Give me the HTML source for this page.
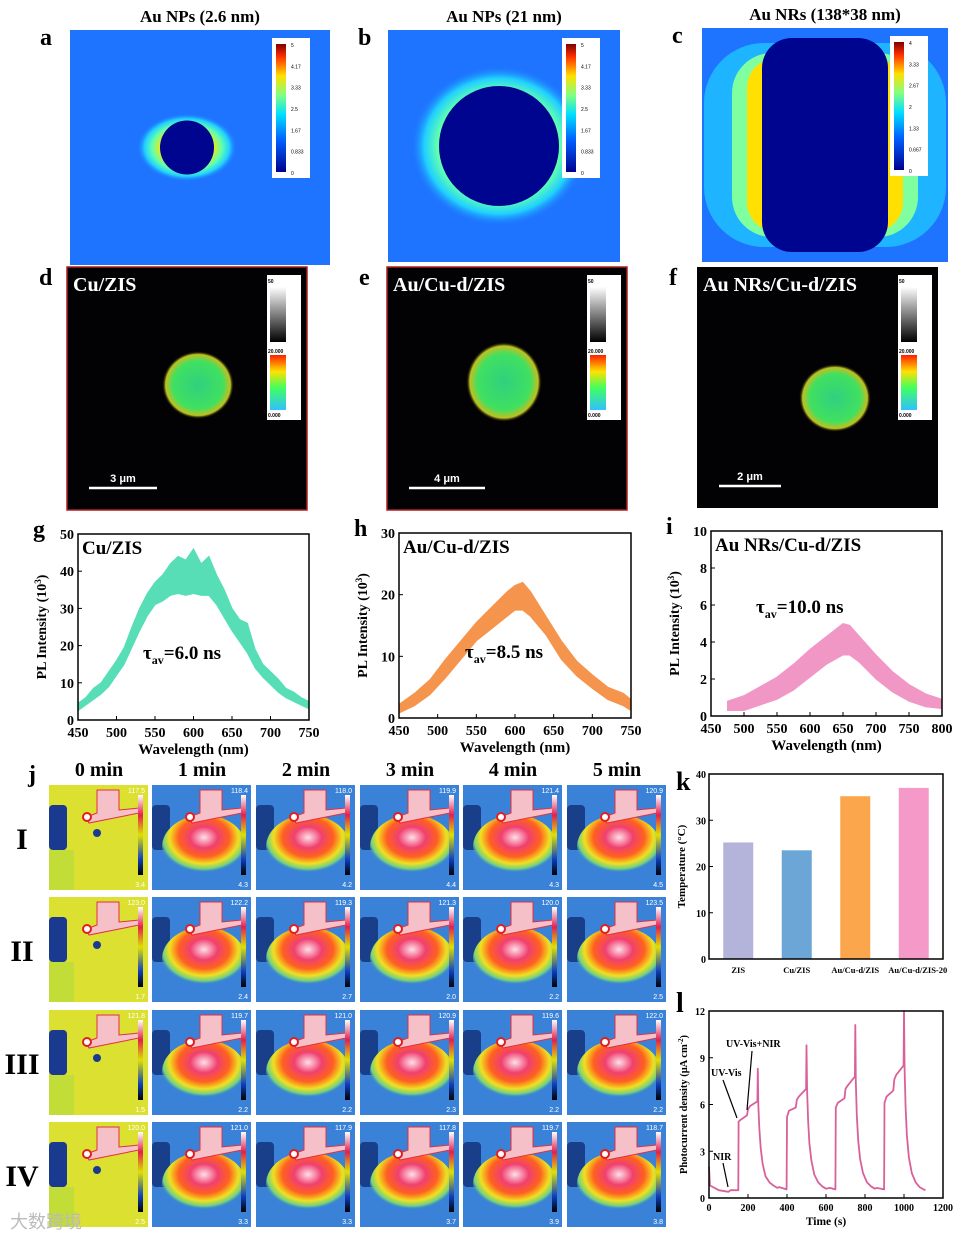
<!DOCTYPE html>
<html><head><meta charset="utf-8"><style>
html,body{margin:0;padding:0;background:#fff}
svg{display:block;font-family:"Liberation Serif",serif;font-weight:bold}
</style></head><body>
<svg id="fig" width="973" height="1239" viewBox="0 0 973 1239" xmlns="http://www.w3.org/2000/svg">
<defs>
<linearGradient id="jet" x1="0" y1="1" x2="0" y2="0"><stop offset="0" stop-color="#00008f"/><stop offset="0.25" stop-color="#0060ff"/><stop offset="0.45" stop-color="#00e0ff"/><stop offset="0.6" stop-color="#80ff80"/><stop offset="0.75" stop-color="#ffe000"/><stop offset="0.9" stop-color="#ff3000"/><stop offset="1" stop-color="#800000"/></linearGradient>
<linearGradient id="gray" x1="0" y1="1" x2="0" y2="0"><stop offset="0" stop-color="#000"/><stop offset="1" stop-color="#fff"/></linearGradient>
<linearGradient id="rain" x1="0" y1="1" x2="0" y2="0"><stop offset="0" stop-color="#30c0ff"/><stop offset="0.4" stop-color="#40ff60"/><stop offset="0.7" stop-color="#ffe000"/><stop offset="1" stop-color="#ff2000"/></linearGradient>
<linearGradient id="tbar" x1="0" y1="1" x2="0" y2="0"><stop offset="0" stop-color="#000"/><stop offset="0.2" stop-color="#1040c0"/><stop offset="0.5" stop-color="#e0e000"/><stop offset="0.75" stop-color="#e02050"/><stop offset="1" stop-color="#fff"/></linearGradient>
<radialGradient id="haloH" cx="0.5" cy="0.5" r="0.5"><stop offset="0.55" stop-color="#ffee00"/><stop offset="0.7" stop-color="#60ffa0"/><stop offset="1" stop-color="#1e78ff" stop-opacity="0"/></radialGradient>
<radialGradient id="haloC" cx="0.5" cy="0.5" r="0.5"><stop offset="0.5" stop-color="#ffe800"/><stop offset="0.7" stop-color="#60ffb0"/><stop offset="0.85" stop-color="#20d0ff"/><stop offset="1" stop-color="#1e78ff" stop-opacity="0"/></radialGradient>
<radialGradient id="blob" cx="0.5" cy="0.5" r="0.5"><stop offset="0" stop-color="#30d080"/><stop offset="0.7" stop-color="#40e060"/><stop offset="0.9" stop-color="#c0c020"/><stop offset="1" stop-color="#000" stop-opacity="0"/></radialGradient>
<radialGradient id="heat" cx="0.5" cy="0.35" r="0.55"><stop offset="0" stop-color="#ffe0e8"/><stop offset="0.3" stop-color="#f04070"/><stop offset="0.55" stop-color="#ff6020"/><stop offset="0.75" stop-color="#f0e020"/><stop offset="0.9" stop-color="#70d080"/><stop offset="1" stop-color="#3a80d8" stop-opacity="0"/></radialGradient>
</defs>
<g id="root"></g>
</svg>
<script>
// ---------- chart data ----------
const plWlG=[450,460,470,480,490,500,510,520,530,540,550,560,570,580,590,600,610,620,630,640,650,660,670,680,690,700,710,720,730,740,750];
const plLoG=[2.5,4,5.5,7,9,12,15,19.5,24,28,31,32,33.5,34,33.5,34,33.5,33.5,31,27.5,24,21,18,14,11.5,9.5,7.5,6,5,4,3];
const plHiG=[4.5,6,8.5,10,13,16,19.5,25,30,34,37,39,42,44,43,46,42,44,39,35,30,27,26,19,15,13,11,8.5,7.5,6,5];
const plWlH=[450,470,490,510,530,550,570,590,600,610,620,640,660,680,700,720,740,750];
const plLoH=[0.8,2,3.8,6.5,9.5,12.5,14.5,16.5,17.5,17.5,16.5,13.5,9.5,6.8,4.8,3,2,1.2];
const plHiH=[2.2,4,6.2,9.5,12.5,15.5,18,20.5,21.5,22,20.5,16.5,12.5,9.2,7,5,4,3];
const plWlI=[475,500,525,550,575,600,625,650,660,675,700,725,750,775,800];
const plLoI=[0.3,0.3,0.6,0.9,1.4,2.1,2.8,3.3,3.3,2.9,2,1.3,0.8,0.5,0.4];
const plHiI=[0.8,1.1,1.6,2.1,2.8,3.6,4.3,5,4.9,4.3,3.3,2.4,1.7,1.2,0.9];
const barCats=["ZIS","Cu/ZIS","Au/Cu-d/ZIS","Au/Cu-d/ZIS-20"];
const barVals=[25.2,23.5,35.2,37.0];
const barColors=["#b4b4da","#6ca6d6","#fba64c","#f59ac8"];
const pcTime=[0,5,50,100,110,150,152,160,195,200,210,248,250,253,258,265,275,290,310,330,350,360,398,400,410,445,450,460,498,500,503,508,515,525,540,560,580,600,620,648,650,660,695,700,710,748,750,753,758,765,775,790,810,830,850,860,898,900,910,945,950,960,998,1000,1003,1008,1015,1025,1040,1060,1080,1100,1110];
const pcVals=[2.0,0.8,0.5,0.4,0.5,0.5,4.9,5.0,5.3,5.7,5.9,6.2,8.3,6.0,4.5,3.2,2.2,1.4,1.0,0.8,0.65,0.7,0.55,5.2,5.6,5.8,6.3,6.5,7.0,9.8,6.9,5.0,3.5,2.4,1.5,1.0,0.75,0.6,0.65,0.55,5.8,6.1,6.4,7.0,7.2,7.8,11.1,7.5,5.3,3.7,2.5,1.6,1.0,0.75,0.6,0.65,0.55,6.1,6.5,6.9,7.6,7.9,8.5,12.0,8.3,5.8,4.0,2.6,1.6,1.0,0.7,0.55,0.5];
const kTicks=[0,10,20,30,40];
const lXTicks=[0,200,400,600,800,1000,1200];
const lYTicks=[0,3,6,9,12];

const NS="http://www.w3.org/2000/svg";
const root=document.getElementById('root');
function mk(tag,attrs,parent,text){const e=document.createElementNS(NS,tag);for(const k in attrs)e.setAttribute(k,attrs[k]);if(text!==undefined)e.textContent=text;(parent||root).appendChild(e);return e;}

// ---------- simulation panels a,b,c ----------
function simPanel(x,y,w,h,label,title,kind,cbTicks){
  const g=mk('g',{});
  
  
  const t=mk('text',{x:x+w/2,y:y-8,'font-size':17,'text-anchor':'middle'},root,title);
  
  
  const l=mk('text',{x:x-30,y:y+15,'font-size':24},root,label);
  
  
  mk('rect',{x:x,y:y,width:w,height:h,fill:'#1e74ff'},g);
  const cx=x+w/2, cy=y+h/2;
  if(kind==='a'){
    mk('ellipse',{cx:cx-13,cy:cy,rx:50,ry:34,fill:'url(#haloC)'},g);
    mk('circle',{cx:cx-13,cy:cy,r:27,fill:'#00058f'},g);
  } else if(kind==='b'){
    mk('ellipse',{cx:cx-5,cy:cy,rx:88,ry:80,fill:'url(#haloC)'},g);
    mk('circle',{cx:cx-5,cy:cy,r:60,fill:'#00058f'},g);
  } else {
    mk('rect',{x:x+2,y:y+15,width:w-4,height:h-30,rx:60,fill:'#20d0ff',opacity:0.7},g);
    mk('rect',{x:x+30,y:y+25,width:w-60,height:h-50,rx:40,fill:'#80ffa0'},g);
    mk('rect',{x:x+45,y:y+30,width:w-90,height:h-60,rx:30,fill:'#ffe000'},g);
    mk('rect',{x:x+60,y:y+10,width:w-120,height:h-20,rx:30,fill:'#00058f'},g);
  }
  const bx=x+w-58, by=y+8;
  mk('rect',{x:bx,y:by,width:38,height:140,fill:'#fff'},g);
  mk('rect',{x:bx+4,y:by+6,width:10,height:128,fill:'url(#jet)'},g);
  cbTicks.forEach((v,i)=>{mk('text',{x:bx+19,y:by+9+i*128/(cbTicks.length-1),'font-size':5,'font-weight':'normal','font-family':'Liberation Sans,sans-serif'},g,v);});
}
simPanel(70,30,260,235,'a','Au NPs (2.6 nm)','a',['5','4.17','3.33','2.5','1.67','0.833','0']);
simPanel(388,30,232,232,'b','Au NPs (21 nm)','b',['5','4.17','3.33','2.5','1.67','0.833','0']);
simPanel(702,28,246,234,'c','Au NRs (138*38 nm)','c',['4','3.33','2.67','2','1.33','0.667','0']);

// ---------- FLIM panels d,e,f ----------
function flim(x,y,w,h,label,title,bx,by,brx,bry,sb,sbw,border){
  const g=mk('g',{});
  
  
  mk('rect',{x:x,y:y,width:w,height:h,fill:'#020204',stroke:border?'#b02020':'none','stroke-width':1.5},g);
  const l=mk('text',{x:x-28,y:y+18,'font-size':24},root,label);
  
  
  mk('text',{x:x+6,y:y+24,'font-size':20,fill:'#fff'},g,title);
  mk('ellipse',{cx:bx,cy:by,rx:brx,ry:bry,fill:'url(#blob)'},g);
  const cx=x+w-40, cy=y+8;
  mk('rect',{x:cx,y:cy,width:34,height:145,fill:'#fff'},g);
  mk('rect',{x:cx+3,y:cy+12,width:16,height:55,fill:'url(#gray)'},g);
  mk('rect',{x:cx+3,y:cy+80,width:16,height:55,fill:'url(#rain)'},g);
  mk('text',{x:cx+1,y:cy+8,'font-size':5,'font-family':'Liberation Sans,sans-serif'},g,'50');
  mk('text',{x:cx+1,y:cy+78,'font-size':5,'font-family':'Liberation Sans,sans-serif'},g,'20.000');
  mk('text',{x:cx+1,y:cy+142,'font-size':5,'font-family':'Liberation Sans,sans-serif'},g,'0.000');
  mk('line',{x1:x+22,y1:y+h-22,x2:x+22+sbw,y2:y+h-22,stroke:'#fff','stroke-width':2.5},g);
  mk('text',{x:x+22+sbw/2,y:y+h-28,'font-size':11,fill:'#fff','text-anchor':'middle','font-family':'Liberation Sans,sans-serif'},g,sb);
}
flim(67,267,240,243,'d','Cu/ZIS',198,385,36,34,'3 μm',68,true);
flim(387,267,240,243,'e','Au/Cu-d/ZIS',504,382,38,40,'4 μm',76,true);
flim(697,267,241,241,'f','Au NRs/Cu-d/ZIS',835,398,36,34,'2 μm',62,false);

// ---------- PL charts ----------
function plChart(label,title,tau,ax,ay,aw,ah,xmin,xmax,xt,ymax,yt,wl,lo,hi,color,tauX,tauY){
  const g=mk('g',{});
  
  
  const sx=v=>ax+(v-xmin)/(xmax-xmin)*aw, sy=v=>ay+ah-v/ymax*ah;
  let pts=[];
  wl.forEach((w,i)=>pts.push(sx(w)+','+sy(hi[i])));
  for(let i=wl.length-1;i>=0;i--)pts.push(sx(wl[i])+','+sy(lo[i]));
  const band=mk('polygon',{points:pts.join(' '),fill:color,stroke:color,'stroke-width':1,opacity:0.9},g);
  
  
  mk('rect',{x:ax,y:ay,width:aw,height:ah,fill:'none',stroke:'#000','stroke-width':1.5},g);
  xt.forEach(v=>{mk('line',{x1:sx(v),y1:ay+ah,x2:sx(v),y2:ay+ah-4,stroke:'#000'},g);mk('text',{x:sx(v),y:ay+ah+17,'font-size':14,'text-anchor':'middle'},g,v);});
  yt.forEach(v=>{mk('line',{x1:ax,y1:sy(v),x2:ax+4,y2:sy(v),stroke:'#000'},g);mk('text',{x:ax-4,y:sy(v)+5,'font-size':14,'text-anchor':'end'},g,v);});
  mk('text',{x:ax+aw/2,y:ay+ah+34,'font-size':15,'text-anchor':'middle'},g,'Wavelength (nm)');
  const yl=mk('text',{x:0,y:0,'font-size':14,'text-anchor':'middle',transform:`translate(${ax-32},${ay+ah/2}) rotate(-90)`},g);
  yl.innerHTML='PL Intensity (10<tspan dy="-5" font-size="9">3</tspan><tspan dy="5">)</tspan>';
  mk('text',{x:ax+4,y:ay+20,'font-size':19},g,title);
  const tt=mk('text',{x:tauX,y:tauY,'font-size':19},g);
  tt.innerHTML='τ<tspan dy="5" font-size="12">av</tspan><tspan dy="-5">='+tau+'</tspan>';
  const l=mk('text',{x:ax-45,y:ay+3,'font-size':24},root,label);
  
  
}
plChart('g','Cu/ZIS','6.0 ns',78,534,231,186,450,750,[450,500,550,600,650,700,750],50,[0,10,20,30,40,50],plWlG,plLoG,plHiG,'#45dbb0',143,659);
plChart('h','Au/Cu-d/ZIS','8.5 ns',399,533,232,185,450,750,[450,500,550,600,650,700,750],30,[0,10,20,30],plWlH,plLoH,plHiH,'#f58a3a',465,658);
plChart('i','Au NRs/Cu-d/ZIS','10.0 ns',711,531,231,185,450,800,[450,500,550,600,650,700,750,800],10,[0,2,4,6,8,10],plWlI,plLoI,plHiI,'#f08cc0',756,613);

// ---------- thermal images j ----------
const jl=mk('text',{x:28,y:782,'font-size':24},root,'j');


const colX=[49,152,256,360,463,567], rowY=[785,897,1010,1122];
const heads=['0 min','1 min','2 min','3 min','4 min','5 min'];
const rowsL=['I','II','III','IV'];
const maxT=[['117.5','118.4','118.0','119.9','121.4','120.9'],['123.0','122.2','119.3','121.3','120.0','123.5'],['121.8','119.7','121.0','120.9','119.6','122.0'],['120.0','121.0','117.9','117.8','119.7','118.7']];
const minT=[['3.4','4.3','4.2','4.4','4.3','4.5'],['1.7','2.4','2.7','2.0','2.2','2.5'],['1.5','2.2','2.2','2.3','2.2','2.2'],['2.5','3.3','3.3','3.7','3.9','3.8']];
heads.forEach((h,c)=>{const t=mk('text',{x:colX[c]+50,y:776,'font-size':20,'text-anchor':'middle'},root,h);});
rowsL.forEach((r,ri)=>{const t=mk('text',{x:22,y:rowY[ri]+64,'font-size':30,'text-anchor':'middle'},root,r);
  colX.forEach((x,c)=>{
    const y=rowY[ri], w=99, h=105;
    const g=mk('g',{});
    
    
    mk('rect',{x:x,y:y,width:w,height:h,fill:c===0?'#dce030':'#3a82d8'},g);
    mk('rect',{x:x,y:y+20,width:18,height:45,rx:4,fill:c===0?'#1a3a90':'#1a3f8a'},g);
    if(c>0){mk('ellipse',{cx:x+52,cy:y+62,rx:42,ry:32,fill:'url(#heat)'},g);}
    else{mk('rect',{x:x,y:y+65,width:25,height:40,fill:'#a8d840',opacity:0.5},g);
      mk('circle',{cx:x+48,cy:y+48,r:4,fill:'#1a3a90'},g);}
    mk('path',{d:`M${x+48} ${y+5} h22 v20 l20 -2 v5 l-50 10 l-3 -6 l11 -4 z`,fill:'#f6c0c8',stroke:'#e03040','stroke-width':1},g);
    mk('circle',{cx:x+38,cy:y+32,r:4,fill:'#fff',stroke:'#e02020','stroke-width':2},g);
    mk('rect',{x:x+w-10,y:y+10,width:5,height:80,fill:'url(#tbar)'},g);
    mk('text',{x:x+w-3,y:y+8,'font-size':7,fill:'#fff','text-anchor':'end','font-weight':'normal','font-family':'Liberation Sans,sans-serif'},g,maxT[ri][c]);
    mk('text',{x:x+w-3,y:y+h-3,'font-size':7,fill:'#fff','text-anchor':'end','font-weight':'normal','font-family':'Liberation Sans,sans-serif'},g,minT[ri][c]);
  });
});

// ---------- bar chart k ----------
(function(){
  const ax=709, ay=774, aw=234, ah=185, ymax=40;
  const g=mk('g',{});
  
  
  const sy=v=>ay+ah-v/ymax*ah;
  const band=aw/barCats.length;
  barCats.forEach((c,i)=>{
    const cx=ax+band*(i+0.5);
    const b=mk('rect',{x:cx-15,y:sy(barVals[i]),width:30,height:sy(0)-sy(barVals[i]),fill:barColors[i]},g);
    
    
    mk('text',{x:cx+(i===3?4:0),y:ay+ah+14,'font-size':8.5,'text-anchor':'middle'},g,c);
  });
  mk('rect',{x:ax,y:ay,width:aw,height:ah,fill:'none',stroke:'#000','stroke-width':1.5},g);
  kTicks.forEach(v=>{mk('line',{x1:ax,y1:sy(v),x2:ax+4,y2:sy(v),stroke:'#000'},g);mk('text',{x:ax-3,y:sy(v)+4,'font-size':10,'text-anchor':'end'},g,v);});
  mk('text',{x:0,y:0,'font-size':11,'text-anchor':'middle',transform:`translate(${ax-24},${ay+ah/2}) rotate(-90)`},g,'Temperature (°C)');
  const l=mk('text',{x:676,y:790,'font-size':26},root,'k');
  
  
})();

// ---------- line chart l ----------
(function(){
  const ax=709, ay=1011, aw=234, ah=187, xmax=1200, ymax=12;
  const g=mk('g',{});
  
  
  const sx=v=>ax+v/xmax*aw, sy=v=>ay+ah-v/ymax*ah;
  const d=pcTime.map((t,i)=>(i?'L':'M')+sx(t).toFixed(1)+' '+sy(pcVals[i]).toFixed(1)).join(' ');
  const p=mk('path',{d:d,fill:'none',stroke:'#d9609a','stroke-width':1.8,'stroke-linejoin':'round'},g);
  
  
  mk('rect',{x:ax,y:ay,width:aw,height:ah,fill:'none',stroke:'#000','stroke-width':1.5},g);
  lXTicks.forEach(v=>{mk('line',{x1:sx(v),y1:ay+ah,x2:sx(v),y2:ay+ah-4,stroke:'#000'},g);mk('text',{x:sx(v),y:ay+ah+13,'font-size':10,'text-anchor':'middle'},g,v);});
  lYTicks.forEach(v=>{mk('line',{x1:ax,y1:sy(v),x2:ax+4,y2:sy(v),stroke:'#000'},g);mk('text',{x:ax-4,y:sy(v)+4,'font-size':10,'text-anchor':'end'},g,v);});
  mk('text',{x:ax+aw/2,y:ay+ah+27,'font-size':11.5,'text-anchor':'middle'},g,'Time (s)');
  const yl=mk('text',{x:0,y:0,'font-size':10.5,'text-anchor':'middle',transform:`translate(${ax-22},${ay+ah/2}) rotate(-90)`},g);
  yl.innerHTML='Photocurrent density (μA cm<tspan dy="-4" font-size="7">-2</tspan><tspan dy="4">)</tspan>';
  mk('text',{x:713,y:1160,'font-size':10},g,'NIR');
  mk('line',{x1:723,y1:1163,x2:728,y2:1187,stroke:'#000','stroke-width':1.2},g);
  mk('text',{x:711,y:1076,'font-size':10},g,'UV-Vis');
  mk('line',{x1:723,y1:1080,x2:737,y2:1118,stroke:'#000','stroke-width':1.2},g);
  mk('text',{x:726,y:1047,'font-size':10},g,'UV-Vis+NIR');
  mk('line',{x1:752,y1:1051,x2:747,y2:1110,stroke:'#000','stroke-width':1.2},g);
  const l=mk('text',{x:676,y:1012,'font-size':28},root,'l');
  
  
})();
const wm=mk('text',{x:10,y:1228,'font-size':18,fill:'#bbb','font-family':'Liberation Sans,"Noto Sans CJK SC",sans-serif','font-weight':'normal'},root,'大数跨境');


</script>
</body></html>
